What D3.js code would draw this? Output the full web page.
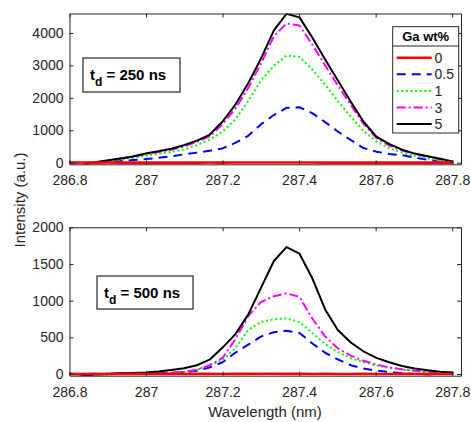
<!DOCTYPE html>
<html>
<head>
<meta charset="utf-8">
<script src="https://cdn.jsdelivr.net/npm/d3@7"></script>
<style>
  body { margin: 0; background: #fff; }
  svg { font-family: "Liberation Sans", Arial, sans-serif; }
</style>
</head>
<body>
<svg id="chart" width="471" height="422"></svg>
<script>
// wavelength samples (nm)
const wavelength = [286.798, 286.831, 286.865, 286.898, 286.932, 286.965, 286.999, 287.032, 287.066, 287.099,
    287.133, 287.166, 287.200, 287.233, 287.267, 287.300, 287.334, 287.367, 287.401, 287.434,
    287.468, 287.501, 287.535, 287.568, 287.602, 287.635, 287.669, 287.702, 287.736, 287.769, 287.803];

const gaLabels = ["0", "0.5", "1", "3", "5"];

// td = 250 ns
const top0  = [5, 4, 3, 4, 3, 2, 3, 2, 3, 2, 3, 4, 3, 4, 5, 5, 6, 5, 4, 4, 3, 3, 2, 3, 2, 3, 2, 2, 3, 2, 2];
const top05 = [0, 0, 5, 20, 50, 80, 110, 150, 200, 255, 310, 370, 440, 610, 830, 1180, 1470, 1690, 1710, 1530,
    1250, 960, 700, 450, 340, 270, 230, 160, 90, 20, 0];
const top1  = [-200, -100, 0, 40, 90, 150, 210, 270, 330, 410, 540, 710, 960, 1330, 1900, 2530, 2990, 3300, 3260, 2880,
    2400, 1900, 1420, 980, 650, 450, 310, 210, 130, 60, 10];
const top3  = [-150, -80, 0, 60, 120, 175, 265, 325, 400, 505, 640, 810, 1190, 1660, 2300, 3050, 3900, 4290, 4230, 3650,
    3000, 2380, 1780, 1200, 760, 530, 375, 270, 180, 100, 20];
const top5  = [-150, -80, 10, 70, 130, 190, 285, 350, 430, 540, 680, 860, 1270, 1780, 2450, 3200, 4080, 4590, 4480, 3870,
    3180, 2540, 1880, 1270, 800, 580, 400, 280, 200, 120, 30];

// td = 500 ns
const bot0  = [2, 1, 2, 1, 1, 2, 1, 1, 2, 1, 2, 2, 1, 2, 2, 3, 3, 2, 2, 1, 2, 1, 1, 2, 1, 1, 2, 1, 1, 1, 1];
const bot05 = [0, -10, -10, 0, 5, 8, 10, 12, 15, 25, 45, 90, 160, 290, 400, 510, 570, 590, 560, 420,
    290, 200, 120, 75, 45, 30, 10, 0, -5, 0, 0];
const bot1  = [-60, -40, -25, -10, 0, 5, 8, 10, 12, 18, 60, 120, 190, 350, 600, 710, 745, 760, 710, 560,
    410, 300, 215, 160, 115, 85, 60, 40, 25, 10, 5];
const bot3  = [-50, -30, -10, 0, 3, 5, 8, 12, 18, 30, 60, 120, 220, 470, 790, 980, 1060, 1100, 1050, 760,
    510, 350, 250, 180, 130, 90, 65, 45, 30, 15, 5];
const bot5  = [-60, -30, -5, 5, 10, 15, 22, 35, 55, 78, 120, 195, 360, 540, 810, 1170, 1540, 1730, 1640, 1310,
    880, 600, 430, 310, 220, 160, 110, 75, 50, 30, 20];

const xTicks = [286.8, 287, 287.2, 287.4, 287.6, 287.8];
const yTicksTop = [0, 1000, 2000, 3000, 4000];
const yTicksBot = [0, 500, 1000, 1500, 2000];

const styles = [
    { color: "#ff0000", dash: null, width: 2.6 },
    { color: "#0000ff", dash: "9,6", width: 2 },
    { color: "#00ff00", dash: "2,2.6", width: 2 },
    { color: "#ff00ff", dash: "9,3,2,3", width: 2 },
    { color: "#000000", dash: null, width: 2 },
];
const drawOrder = [1, 2, 3, 4, 0];

const svg = d3.select("#chart");
const axisColor = "#262626";
const left = 69.5, right = 461;

function panel(id, y0, y1, yDomain, yTicks, series, label, box) {
    const x = d3.scaleLinear().domain([286.8, 287.823]).range([left, right]);
    const y = d3.scaleLinear().domain(yDomain).range([y1, y0]);
    const g = svg.append("g");

    g.append("clipPath").attr("id", id)
        .append("rect").attr("x", left).attr("y", y0).attr("width", right - left).attr("height", y1 - y0);

    const line = d3.line().x((d, i) => x(wavelength[i])).y(d => y(d));
    const lines = g.append("g").attr("clip-path", `url(#${id})`);
    drawOrder.forEach(k => {
        lines.append("path")
            .attr("d", line(series[k]))
            .attr("fill", "none")
            .attr("stroke", styles[k].color)
            .attr("stroke-width", styles[k].width)
            .attr("stroke-dasharray", styles[k].dash)
            .attr("stroke-linejoin", "round");
    });

    const fmt = v => String(+v.toFixed(1));
    g.append("g").attr("transform", `translate(0,${y1})`)
        .call(d3.axisBottom(x).tickValues(xTicks).tickFormat(fmt).tickSizeInner(-4).tickSizeOuter(0).tickPadding(11));
    g.append("g").attr("transform", `translate(0,${y0})`)
        .call(d3.axisTop(x).tickValues(xTicks).tickFormat("").tickSizeInner(-4).tickSizeOuter(0));
    g.append("g").attr("transform", `translate(${left},0)`)
        .call(d3.axisLeft(y).tickValues(yTicks).tickFormat(d3.format("d")).tickSizeInner(-4).tickSizeOuter(0).tickPadding(6));
    g.append("g").attr("transform", `translate(${right},0)`)
        .call(d3.axisRight(y).tickValues(yTicks).tickFormat("").tickSizeInner(-4).tickSizeOuter(0));

    g.selectAll(".domain, .tick line").attr("stroke", axisColor);
    g.selectAll(".tick text").attr("fill", axisColor).style("font-size", "14px")
        .style("font-family", "'Liberation Sans', Arial, sans-serif");

    // annotation box
    g.append("rect").attr("x", box[0]).attr("y", box[1]).attr("width", box[2]).attr("height", box[3])
        .attr("fill", "#fff").attr("stroke", axisColor).attr("stroke-width", 1.2);
    const t = g.append("text").attr("x", box[0] + 7).attr("y", box[1] + 22)
        .attr("font-weight", "bold").attr("font-size", 15).attr("fill", "#000");
    t.append("tspan").text("t");
    t.append("tspan").attr("dy", 6).attr("font-size", 12).text("d");
    t.append("tspan").attr("dy", -6).text(" = " + label);
}

panel("clipTop", 13.5, 164.3, [-50, 4600], yTicksTop, [top0, top05, top1, top3, top5], "250 ns", [83, 58, 97, 34]);
panel("clipBot", 227.3, 375.7, [-23, 2000], yTicksBot, [bot0, bot05, bot1, bot3, bot5], "500 ns", [97, 276, 96, 33]);

// legend
const lg = svg.append("g");
lg.append("rect").attr("x", 392.7).attr("y", 26.7).attr("width", 66).attr("height", 106.3)
    .attr("fill", "#fff").attr("stroke", axisColor).attr("stroke-width", 1);
lg.append("line").attr("x1", 392.7).attr("x2", 458.7).attr("y1", 46).attr("y2", 46)
    .attr("stroke", axisColor).attr("stroke-width", 1);
lg.append("text").attr("x", 425.7).attr("y", 41).attr("text-anchor", "middle")
    .attr("font-weight", "bold").attr("font-size", 13).attr("fill", "#000").text("Ga wt%");
gaLabels.forEach((lab, i) => {
    const yy = 57.7 + i * 16.6;
    lg.append("line").attr("x1", 396.7).attr("x2", 431.7).attr("y1", yy).attr("y2", yy)
        .attr("stroke", styles[i].color).attr("stroke-width", styles[i].width)
        .attr("stroke-dasharray", styles[i].dash);
    lg.append("text").attr("x", 434.5).attr("y", yy + 5).attr("font-size", 14).attr("fill", axisColor).text(lab);
});

// axis titles
svg.append("text").attr("transform", "translate(25,200) rotate(-90)").attr("text-anchor", "middle")
    .attr("font-size", 15).attr("fill", axisColor).text("Intensity (a.u.)");
svg.append("text").attr("x", 265).attr("y", 417).attr("text-anchor", "middle")
    .attr("font-size", 15).attr("fill", axisColor).text("Wavelength (nm)");
</script>
</body>
</html>
